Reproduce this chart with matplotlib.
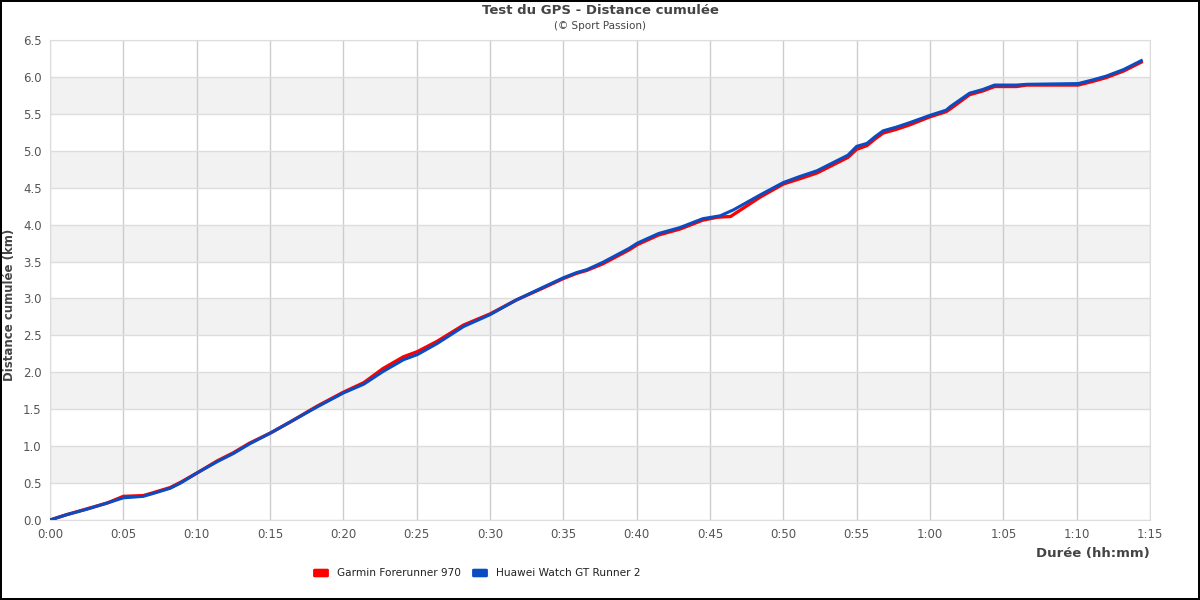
#!/usr/bin/env python3
# -*- coding: utf-8 -*-
"""
GPS test - cumulated distance, Garmin vs Huawei
"""
import numpy as np
import matplotlib.pyplot as plt
from matplotlib.ticker import FuncFormatter, MultipleLocator
from matplotlib.patches import FancyBboxPatch

# Duration (minutes) and cumulated distance (km)
huawei_t = [0, 1.1, 2.5, 3.9, 5.0, 6.35, 7.05, 8.2, 8.9, 10.05, 11.4, 12.5, 13.6,
            15.05, 16.4, 18.2, 20.0, 21.4, 22.7, 24.1, 25.05, 26.4, 28.2, 30.0,
            31.8, 33.6, 35.0, 35.9, 36.6, 37.7, 39.5, 40.05, 41.5, 42.95, 44.5,
            45.7, 46.6, 48.4, 50.0, 51.1, 52.3, 53.4, 54.4, 55.0, 55.7, 56.25,
            56.8, 57.7, 58.6, 60.0, 61.1, 61.4, 62.7, 63.6, 64.4, 65.9, 66.6,
            70.1, 71.1, 72.0, 73.2, 74.5]
huawei_d = [0, 0.07, 0.145, 0.23, 0.30, 0.32, 0.36, 0.43, 0.50, 0.64, 0.79, 0.90, 1.03,
            1.18, 1.33, 1.53, 1.72, 1.84, 2.01, 2.17, 2.24, 2.39, 2.62, 2.78,
            2.98, 3.15, 3.28, 3.35, 3.39, 3.49, 3.68, 3.75, 3.88, 3.96, 4.08,
            4.12, 4.20, 4.40, 4.57, 4.65, 4.73, 4.84, 4.94, 5.06, 5.10, 5.19,
            5.27, 5.32, 5.38, 5.48, 5.55, 5.60, 5.78, 5.83, 5.89, 5.89, 5.90,
            5.91, 5.96, 6.01, 6.10, 6.23]

garmin_t = [0, 1.1, 2.5, 3.9, 5.0, 6.35, 7.05, 8.2, 8.9, 10.05, 11.4, 12.5, 13.6,
            15.05, 16.4, 18.2, 20.0, 21.4, 22.7, 24.1, 25.05, 26.4, 28.2, 30.0,
            31.8, 33.6, 35.0, 35.9, 36.6, 37.7, 39.5, 40.05, 41.5, 42.95, 44.5,
            45.5, 46.4, 48.4, 50.0, 51.1, 52.3, 53.4, 54.4, 55.0, 55.7, 56.25,
            56.8, 57.7, 58.6, 60.0, 61.1, 61.4, 62.7, 63.6, 64.4, 65.9, 66.6,
            70.1, 71.1, 72.0, 73.2, 74.5]
garmin_d = [0, 0.07, 0.15, 0.23, 0.32, 0.33, 0.37, 0.44, 0.51, 0.64, 0.80, 0.91, 1.04,
            1.18, 1.33, 1.54, 1.73, 1.86, 2.05, 2.21, 2.28, 2.42, 2.64, 2.79,
            2.98, 3.14, 3.27, 3.34, 3.38, 3.47, 3.66, 3.73, 3.86, 3.94, 4.06,
            4.10, 4.11, 4.37, 4.55, 4.62, 4.70, 4.81, 4.91, 5.02, 5.07, 5.16,
            5.24, 5.29, 5.35, 5.46, 5.53, 5.57, 5.76, 5.81, 5.87, 5.87, 5.89,
            5.89, 5.94, 5.99, 6.08, 6.21]

labels = ['Garmin Forerunner 970', 'Huawei Watch GT Runner 2']
colors = ['#ff0000', '#0a4cc2']


def fmtDuration(x, pos):
    """ minutes -> h:mm """
    return '%d:%02d' % (int(x) // 60, int(round(x)) % 60)


def main():
    fig = plt.figure(figsize=(12, 6), dpi=100)
    fig.patch.set_edgecolor('black')
    fig.patch.set_linewidth(1.5)
    ax = fig.add_axes([50/1200, 1-520/600, 1100/1200, 480/600])

    # alternating bands
    for y0 in np.arange(0.5, 6.5, 1.0):
        ax.axhspan(y0, y0+0.5, color='#f2f2f2', zorder=0, lw=0)

    ax.plot(garmin_t, garmin_d, color=colors[0], lw=2.4, zorder=3,
            solid_joinstyle='round', solid_capstyle='butt')
    ax.plot(huawei_t, huawei_d, color=colors[1], lw=2.2, zorder=4,
            solid_joinstyle='round', solid_capstyle='butt')

    ax.set_xlim(0, 75)
    ax.set_ylim(0, 6.5)
    ax.xaxis.set_major_locator(MultipleLocator(5))
    ax.xaxis.set_major_formatter(FuncFormatter(fmtDuration))
    ax.yaxis.set_major_locator(MultipleLocator(0.5))
    ax.yaxis.set_major_formatter(FuncFormatter(lambda v, p: '%.1f' % v))

    ax.grid(axis='x', color='#cccccc', lw=1)
    ax.grid(axis='y', color='#dddddd', lw=1)
    ax.set_axisbelow(True)
    for s in ax.spines.values():
        s.set_color('#dddddd')
    ax.tick_params(length=0, colors='#555555', labelsize=8.5, pad=6)

    fig.text(10/1200, 1-305/600, 'Distance cumulée (km)', rotation=90,
             ha='center', va='center', fontsize=8.5, fontweight='bold',
             color='#444444')
    ax.set_xlabel('Durée (hh:mm)', fontsize=9.5, fontweight='bold',
                  color='#444444', loc='right', labelpad=4)

    fig.text(0.5, 1-11/600, 'Test du GPS - Distance cumulée', ha='center',
             va='center', fontsize=9.5, fontweight='bold', color='#444444')
    fig.text(0.5, 1-26/600, '(© Sport Passion)', ha='center', va='center',
             fontsize=7.5, color='#444444')

    # legend
    xs = [315, 474]
    for x, lab, c in zip(xs, labels, colors):
        fig.patches.append(FancyBboxPatch((x/1200, 1-576/600), 12/1200, 6/600,
                                          boxstyle='round,pad=0.001',
                                          transform=fig.transFigure,
                                          fc=c, ec=c))
        fig.text((x+22)/1200, 1-573/600, lab, ha='left', va='center',
                 fontsize=7.6, color='#222222')

    fig.savefig('out.png', dpi=100)


if __name__ == "__main__":
    main()
